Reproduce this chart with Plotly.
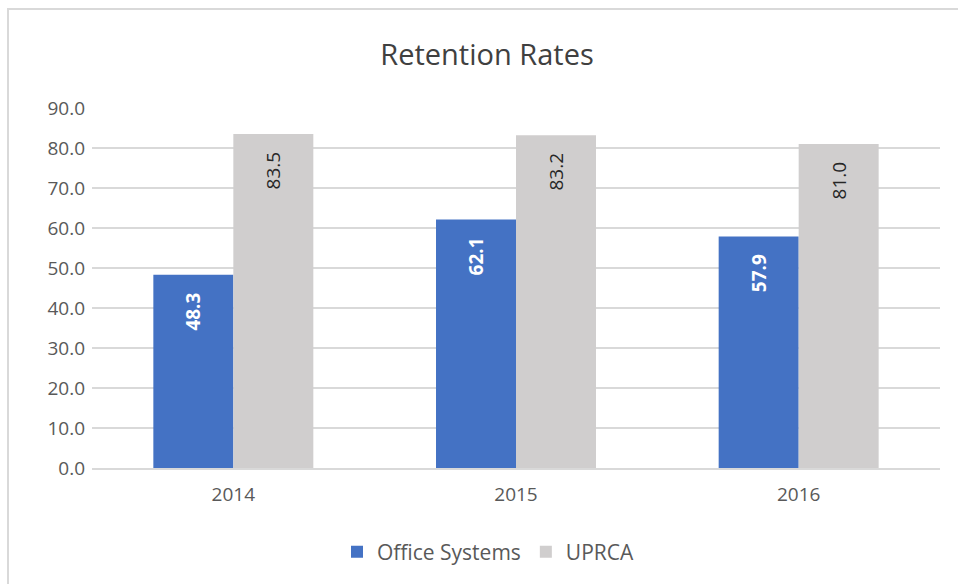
import plotly.graph_objects as go

years = ["2014", "2015", "2016"]
office_systems = [48.3, 62.1, 57.9]
uprca = [83.5, 83.2, 81.0]
y_ticks = [0, 10, 20, 30, 40, 50, 60, 70, 80, 90]

FONT = "Open Sans"
pad = "\u00a0\u00a0\u00a0"

fig = go.Figure()
fig.add_trace(go.Bar(
    name="Office Systems", x=years, y=office_systems,
    marker=dict(color="#4472C4", line=dict(width=0)),
    texttemplate="%{y:.1f}" + pad, textposition="inside", insidetextanchor="end",
    textangle=-90, textfont=dict(family=FONT, size=19, color="white", weight="bold"),
))
fig.add_trace(go.Bar(
    name="UPRCA", x=years, y=uprca,
    marker=dict(color="#D0CECE", line=dict(width=0)),
    texttemplate="%{y:.1f}" + pad, textposition="inside", insidetextanchor="end",
    textangle=-90, textfont=dict(family=FONT, size=19, color="#262626"),
))

W, H = 958, 584
L, R, T, B = 92, 18, 108, 116
pw, ph = W - L - R, H - T - B

fig.update_layout(
    width=W, height=H,
    margin=dict(l=L, r=R, t=T, b=B),
    paper_bgcolor="white", plot_bgcolor="white",
    barmode="group", bargap=0.434, bargroupgap=0.0,
    title=dict(text="Retention Rates", x=487 / W, xanchor="center", xref="container",
               y=1 - 55 / H, yanchor="middle", yref="container",
               font=dict(family=FONT, size=29, color="#404040")),
    font=dict(family=FONT, color="#595959"),
    yaxis=dict(range=[0, 90], tickvals=y_ticks, tickformat=".1f", showgrid=True,
               gridcolor="#D9D9D9", gridwidth=2, zeroline=False, showline=False,
               ticks="", tickfont=dict(size=19, color="#595959"), ticklabelstandoff=6),
    xaxis=dict(showgrid=False, showline=True, linecolor="#D9D9D9", linewidth=2,
               ticks="", tickfont=dict(size=19, color="#595959"), ticklabelstandoff=8),
    legend=dict(orientation="h", x=(488 - L) / pw, xanchor="center",
                y=-(552 - (T + ph)) / ph, yanchor="middle",
                font=dict(size=21, color="#595959"), traceorder="normal"),
)

fig.add_shape(type="rect", xref="paper", yref="paper",
              x0=-(L - 8) / pw, x1=1 + (R + 10) / pw,
              y0=-(B + 10) / ph, y1=1 + (T - 9) / ph,
              line=dict(color="#D9D9D9", width=2), fillcolor="rgba(0,0,0,0)", layer="below")

fig.write_html("out.html", config={"displayModeBar": False},
               post_script="document.body.style.margin='0';document.body.style.overflow='hidden';")
